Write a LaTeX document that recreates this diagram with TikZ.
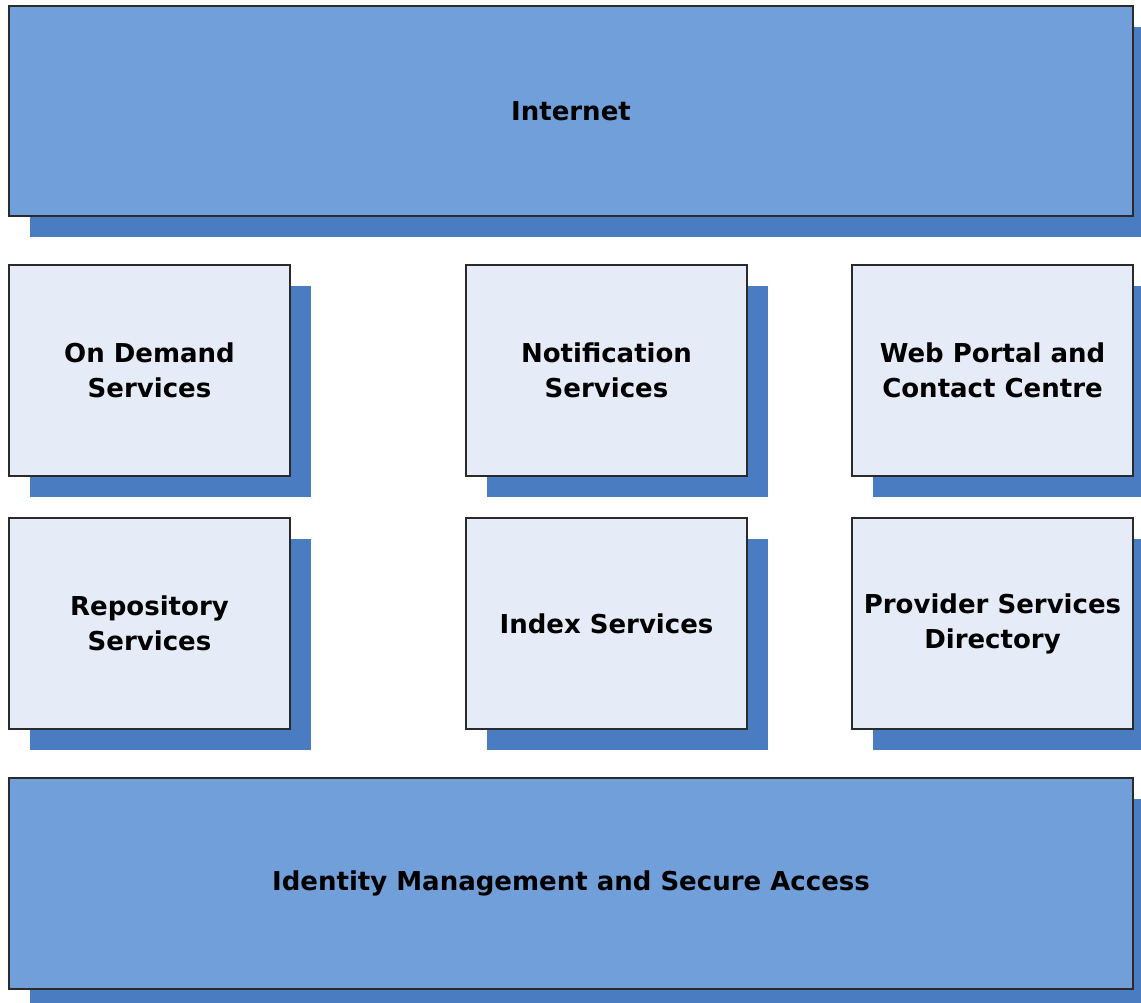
\documentclass[tikz,border=0pt]{standalone}
\usepackage{fontspec}
\setmainfont{DejaVu Sans}
\definecolor{midblue}{HTML}{719FDA}
\definecolor{shadblue}{HTML}{4A7CC2}
\definecolor{paleblue}{HTML}{E6ECF7}
\definecolor{edge}{HTML}{2A2A2A}
\begin{document}
\begin{tikzpicture}[x=1pt,y=-1pt,
  shad/.style={fill=shadblue,draw=none},
  bigbox/.style={draw=edge,line width=1.2pt,fill=midblue},
  smallbox/.style={draw=edge,line width=1.2pt,fill=paleblue},
  lbl/.style={font=\fontsize{26}{35}\selectfont\bfseries,align=center,text=black,inner sep=0pt}]
\useasboundingbox (0,0) rectangle (1141,1003);
% shadows
\fill[shad] (30,27) rectangle (1141,237);
\foreach \x in {9,466,852}{
  \fill[shad] (\x+21,286) rectangle (\x+302,497);
  \fill[shad] (\x+21,539) rectangle (\x+302,750);
}
\fill[shad] (30,799) rectangle (1141,1003);
% boxes
\draw[bigbox] (9,6) rectangle (1133,216);
\node[lbl] (internet) at (571,111) {Internet};
\draw[smallbox] (9,265) rectangle (290,476);
\node[lbl] (ondemand) at (149.5,370.5) {On Demand\\Services};
\draw[smallbox] (466,265) rectangle (747,476);
\node[lbl] (notif) at (606.5,370.5) {Notification\\Services};
\draw[smallbox] (852,265) rectangle (1133,476);
\node[lbl] (web) at (992.5,370.5) {Web Portal and\\Contact Centre};
\draw[smallbox] (9,518) rectangle (290,729);
\node[lbl] (repo) at (149.5,623.5) {Repository\\Services};
\draw[smallbox] (466,518) rectangle (747,729);
\node[lbl] (index) at (606.5,623.5) {Index Services};
\draw[smallbox] (852,518) rectangle (1133,729);
\node[lbl] (prov) at (992.5,623.5) {Provider Services\\Directory};
\draw[bigbox] (9,778) rectangle (1133,989);
\node[lbl] (idm) at (571,883.5) {Identity Management and Secure Access};
\end{tikzpicture}
\end{document}
